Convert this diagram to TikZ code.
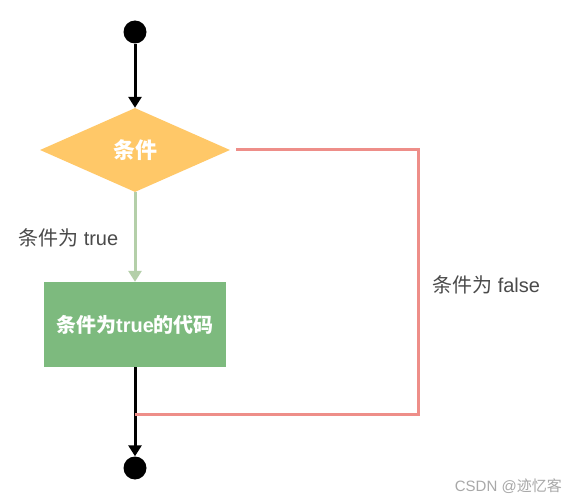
\documentclass[tikz,border=0pt]{standalone}
\usepackage{fontspec}
\setmainfont{Liberation Sans}
\newfontfamily\cjk{Noto Sans CJK SC}
\usetikzlibrary{shapes.geometric,arrows.meta}
\definecolor{dia}{HTML}{FFC868}
\definecolor{boxg}{HTML}{7DBA7E}
\definecolor{arrg}{HTML}{B4CFA9}
\definecolor{redl}{HTML}{EE8E89}
\definecolor{txtg}{HTML}{4A4A4A}
\definecolor{wm}{HTML}{A8A8A8}
\tikzset{
  dot/.style={circle,fill=black,inner sep=0pt,minimum size=23pt},
  cond/.style={diamond,fill=dia,inner sep=0pt,minimum width=190pt,minimum height=84pt,aspect=2.3,text=white,font=\fontsize{22}{22}\selectfont\bfseries},
  codebox/.style={rectangle,fill=boxg,inner sep=0pt,minimum width=182pt,minimum height=85pt,text=white,font=\fontsize{20}{20}\selectfont\bfseries},
  blk/.style={draw=black,line width=3pt,-{Triangle[length=11pt,width=13pt]}},
  grn/.style={draw=arrg,line width=3pt,-{Triangle[length=11pt,width=13pt]}},
  redline/.style={draw=redl,line width=3pt},
  lbl/.style={text=txtg,font=\fontsize{20}{20}\selectfont,inner sep=0pt},
}
\begin{document}
\begin{tikzpicture}[x=1pt,y=-1pt]
\useasboundingbox[fill=white] (0,0) rectangle (574,500);
\node[dot] (start) at (135,32) {};
\node[cond] (c) at (135,150) {{\cjk\bfseries 条件}};
\node[codebox] (code) at (135,324.5) {{\cjk\bfseries 条件为}true{\cjk\bfseries 的代码}};
\node[dot] (end) at (135,468) {};
\coordinate (r1) at (418,150);
\coordinate (r2) at (418,414);
\coordinate (r3) at (135,414);
\draw[blk] (start) -- (c.north);
\draw[grn] (c.south) -- (code.north -| c.south);
\draw[blk] (code.south -| end.north) -- (end.north);
\draw[redline] ([xshift=6pt]c.east) -- (r1) -- (r2) -- (r3);
\node[lbl,anchor=west] (lt) at (18,238) {{\cjk 条件为} true};
\node[lbl,anchor=west] (lf) at (432,285) {{\cjk 条件为} false};
\node[text=wm,font=\fontsize{15}{15}\selectfont,anchor=east,inner sep=0pt] (w) at (562,486) {CSDN @{\cjk 迹忆客}};
\end{tikzpicture}
\end{document}
